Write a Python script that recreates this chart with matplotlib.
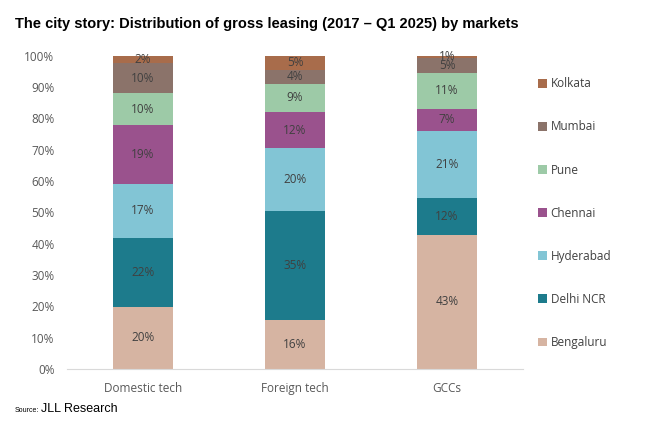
import matplotlib

matplotlib.use("Agg")
import matplotlib.pyplot as plt  # noqa: E402
from matplotlib.patches import Patch  # noqa: E402

# Share of gross leasing (%) by market, per occupier group
categories = ["Domestic tech", "Foreign tech", "GCCs"]
markets = ["Bengaluru", "Delhi NCR", "Hyderabad", "Chennai", "Pune", "Mumbai", "Kolkata"]
bengaluru = [19.8, 15.6, 42.9]
delhi_ncr = [22.0, 34.9, 11.8]
hyderabad = [17.4, 19.9, 21.4]
chennai = [18.6, 11.7, 7.0]
pune = [10.2, 8.9, 11.4]
mumbai = [9.6, 4.4, 4.9]
kolkata = [2.4, 4.6, 0.6]
yticks = [0, 10, 20, 30, 40, 50, 60, 70, 80, 90, 100]

series = [bengaluru, delhi_ncr, hyderabad, chennai, pune, mumbai, kolkata]
colors = ["#d6b4a2", "#1d7b8c", "#82c5d5", "#9a528d", "#9dcaa7", "#8b736a", "#a86c4b"]

plt.rcParams["font.family"] = ["Open Sans", "DejaVu Sans"]
fig = plt.figure(figsize=(6.53, 4.25), dpi=100)
ax = fig.add_axes([0.1026, 0.1318, 0.6984, 0.7372])

x = list(range(len(categories)))
bottom = [0.0] * len(categories)
for vals, col in zip(series, colors):
    ax.bar(x, vals, width=0.4, bottom=bottom, color=col, linewidth=0)
    for i, v in enumerate(vals):
        ax.text(i, bottom[i] + v / 2, f"{v:.0f}%", ha="center", va="center",
                fontsize=8.5, color="#404040")
    bottom = [b + v for b, v in zip(bottom, vals)]

ax.set_xlim(-0.5, 2.5)
ax.set_ylim(0, 100)
ax.set_yticks(yticks)
ax.set_yticklabels([f"{t}%" for t in yticks])
ax.set_xticks(x)
ax.set_xticklabels(categories)
ax.tick_params(axis="both", length=0, labelsize=8.5, labelcolor="#595959")
ax.tick_params(axis="y", pad=9)
ax.tick_params(axis="x", pad=9.5)
for s in ["top", "right", "left"]:
    ax.spines[s].set_visible(False)
ax.spines["bottom"].set_color("#d9d9d9")

handles = [Patch(facecolor=c, label=m) for m, c in zip(markets, colors)][::-1]
fig.legend(handles=handles, loc="upper left", bbox_to_anchor=(0.808, 0.843),
           frameon=False, fontsize=8.5, labelcolor="#404040", handlelength=0.75,
           handleheight=0.75, handletextpad=0.3, labelspacing=2.55)

fig.text(0.023, 0.935, "The city story: Distribution of gross leasing (2017 \u2013 Q1 2025) by markets",
         fontsize=10.5, fontweight="bold", family="Liberation Sans", color="black", va="baseline")
fig.text(0.023, 0.030, "Source:", fontsize=5, family="Liberation Sans", va="baseline")
fig.text(0.063, 0.030, "JLL Research", fontsize=9, family="Liberation Sans", va="baseline")

fig.savefig("out.png", dpi=100)
